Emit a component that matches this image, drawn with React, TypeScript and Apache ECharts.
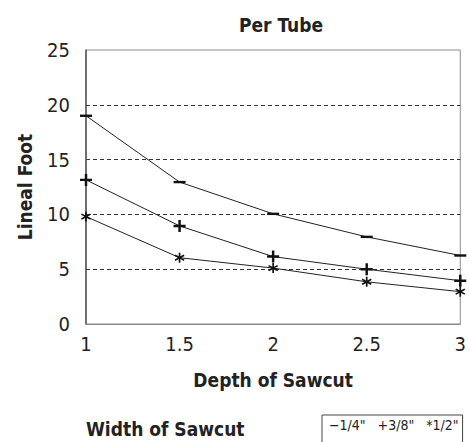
import React, { useEffect, useRef } from "react";
import * as echarts from "echarts";

const depths = [1, 1.5, 2, 2.5, 3];
const seriesNames = ['1/4"', '3/8"', '1/2"'];
const legendPrefix = ["\u22121/4\"", "+3/8\"", "*1/2\""];
const quarter = [19, 12.95, 10.05, 7.95, 6.25];
const threeEighths = [13.15, 8.95, 6.15, 5.0, 3.95];
const half = [9.8, 6.05, 5.1, 3.85, 2.95];
const yTicks = [0, 5, 10, 15, 20, 25];

const FONT = '"Liberation Sans Narrow", "DejaVu Sans Condensed", sans-serif';

const dashSymbol = "path://M0,0h12v2.4h-12z";
const plusSymbol = "path://M5,0h2.6v5h5v2.6h-5v5h-2.6v-5h-5v-2.6h5z";
const starSymbol =
  "path://M4.2,0h1.6v3.6l3.1,-1.8l0.8,1.4l-3.1,1.8l3.1,1.8l-0.8,1.4l-3.1,-1.8v3.6h-1.6v-3.6l-3.1,1.8l-0.8,-1.4l3.1,-1.8l-3.1,-1.8l0.8,-1.4l3.1,1.8z";

export default function App() {
  const ref = useRef<HTMLDivElement>(null);
  useEffect(() => {
    if (!ref.current) return;
    const chart = echarts.init(ref.current, null, { renderer: "svg" });
    const values = [quarter, threeEighths, half];
    const symbols = [dashSymbol, plusSymbol, starSymbol];
    const sizes: any[] = [[12, 2.4], [12, 12], [10, 10]];
    const bold = { fontFamily: FONT, fontWeight: "bold", fontSize: 19, color: "#222" };
    chart.setOption({
      animation: false,
      textStyle: { fontFamily: FONT },
      title: [
        {
          text: "Per Tube",
          left: 276,
          top: 10,
          textAlign: "center",
          textStyle: bold,
        },
        {
          text: "Width of Sawcut",
          left: 86,
          top: 419,
          padding: 0,
          textStyle: bold,
        },
      ],
      legend: {
        left: 322,
        top: 415,
        width: 150,
        data: seriesNames,
        icon: "none",
        itemWidth: 0,
        itemHeight: 10,
        itemGap: 7,
        borderColor: "#444",
        borderWidth: 1,
        borderRadius: 0,
        padding: [3, 4, 14, 2],
        formatter: (name: string) => legendPrefix[seriesNames.indexOf(name)],
        textStyle: { fontFamily: FONT, fontSize: 14, color: "#222", padding: 0 },
        selectedMode: false,
      },
      grid: {
        left: 86,
        right: 7,
        top: 50,
        bottom: 118,
        show: true,
        borderColor: "#8a8a8a",
        borderWidth: 1,
        backgroundColor: "transparent",
      },
      xAxis: {
        type: "value",
        min: 1,
        max: 3,
        interval: 0.5,
        name: "Depth of Sawcut",
        nameLocation: "middle",
        nameGap: 46,
        nameTextStyle: bold,
        axisLine: { show: true, lineStyle: { color: "#8a8a8a", width: 1 } },
        axisTick: { show: false },
        splitLine: { show: false },
        axisLabel: { fontFamily: FONT, fontSize: 20, color: "#222", margin: 10 },
      },
      yAxis: {
        type: "value",
        min: 0,
        max: 25,
        interval: 5,
        name: "Lineal Foot",
        nameLocation: "middle",
        nameGap: 52,
        nameRotate: 90,
        nameTextStyle: bold,
        axisLine: { show: true, lineStyle: { color: "#555", width: 1.5 } },
        axisTick: { show: false },
        axisLabel: {
          fontFamily: FONT,
          fontSize: 20,
          color: "#222",
          margin: 16,
          formatter: (v: number) => (yTicks.includes(v) ? String(v) : ""),
        },
        splitLine: {
          show: true,
          lineStyle: {
            color: ["transparent", "#333", "#333", "#333", "#333", "transparent"],
            type: [4, 3],
            width: 1,
          },
        },
      },
      series: seriesNames.map((name, i) => ({
        name,
        type: "line",
        data: depths.map((d, j) => [d, values[i][j]]),
        symbol: symbols[i],
        symbolSize: sizes[i],
        showSymbol: true,
        lineStyle: { color: "#222", width: 1 },
        itemStyle: { color: "#111" },
        clip: false,
        z: 3 + i,
      })),
    });
    return () => chart.dispose();
  }, []);
  return <div ref={ref} style={{ width: 469, height: 442, position: "absolute", left: 0, top: 0 }} />;
}
